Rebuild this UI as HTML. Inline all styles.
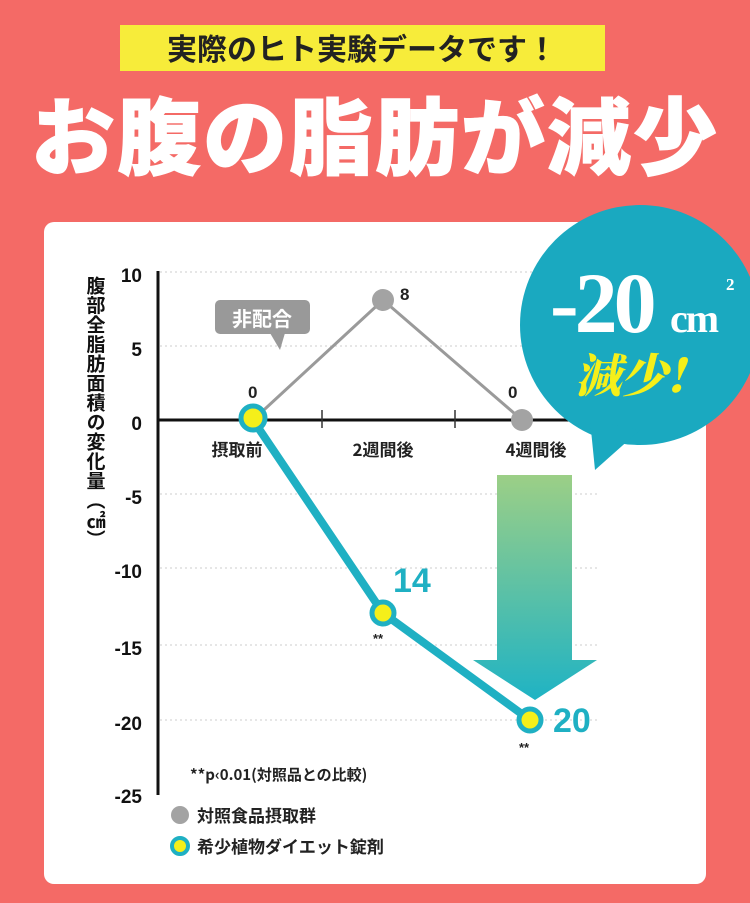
<!DOCTYPE html>
<html><head><meta charset="utf-8"><style>
body{margin:0;width:750px;height:903px;overflow:hidden;background:#f46a66;font-family:"Liberation Sans","Noto Sans CJK JP",sans-serif;}
</style></head><body>
<svg width="750" height="903" viewBox="0 0 750 903" xmlns="http://www.w3.org/2000/svg" style="position:absolute;left:0;top:0">
<defs>
<linearGradient id="ag" x1="0" y1="0" x2="0" y2="1"><stop offset="0" stop-color="#9ccf86"/><stop offset="1" stop-color="#1fb3c4"/></linearGradient>
</defs>
<rect width="750" height="903" fill="#f46a66"/>
<rect x="120" y="25" width="485" height="46" fill="#f7ec3a"/>
<text x="362" y="60" font-size="30" font-weight="bold" text-anchor="middle" fill="#222" font-family="Noto Sans CJK JP,sans-serif">実際のヒト実験データです！</text>
<text x="375" y="168" font-size="84" font-weight="900" text-anchor="middle" fill="#fff" stroke="#fff" stroke-width="1" font-family="Noto Sans CJK JP,sans-serif" letter-spacing="2">お腹の脂肪が減少</text>
<rect x="44" y="222" width="662" height="662" rx="10" fill="#fff"/>
<g stroke="#ccc" stroke-dasharray="2,3" stroke-width="1">
<line x1="160" y1="272" x2="600" y2="272"/><line x1="160" y1="346" x2="600" y2="346"/>
<line x1="160" y1="494" x2="600" y2="494"/><line x1="160" y1="568" x2="600" y2="568"/>
<line x1="160" y1="645" x2="600" y2="645"/><line x1="160" y1="720" x2="600" y2="720"/>
</g>
<line x1="158" y1="271" x2="158" y2="795" stroke="#111" stroke-width="3"/>
<line x1="157" y1="420" x2="600" y2="420" stroke="#111" stroke-width="3"/>
<line x1="322" y1="410" x2="322" y2="428" stroke="#333" stroke-width="1.5"/>
<line x1="455" y1="410" x2="455" y2="428" stroke="#333" stroke-width="1.5"/>
<g font-size="19" font-weight="bold" fill="#111" text-anchor="end">
<text x="142" y="282">10</text><text x="142" y="356">5</text><text x="142" y="430">0</text>
<text x="142" y="504">-5</text><text x="142" y="578">-10</text><text x="142" y="655">-15</text>
<text x="142" y="730">-20</text><text x="142" y="803">-25</text>
</g>
<text font-size="19" font-weight="bold" fill="#111" font-family="Noto Sans CJK JP,sans-serif" writing-mode="tb" x="96" y="276" letter-spacing="0.5">腹部全脂肪面積の変化量（㎠）</text>
<g font-size="17" font-weight="bold" fill="#222" text-anchor="middle" font-family="Noto Sans CJK JP,sans-serif">
<text x="237" y="456">摂取前</text><text x="383" y="456">2週間後</text><text x="536" y="456">4週間後</text>
</g>
<polyline points="253,420 383,300 522,420" fill="none" stroke="#9a9a9a" stroke-width="3"/>
<circle cx="383" cy="300" r="11" fill="#a3a3a3"/>
<circle cx="522" cy="420" r="11" fill="#a3a3a3"/>
<g font-size="17" font-weight="bold" fill="#222"><text x="248" y="398">0</text><text x="400" y="300">8</text><text x="508" y="398">0</text></g>
<rect x="215" y="300" width="95" height="34" rx="5" fill="#999"/>
<polygon points="270,333 285,333 280,350" fill="#999"/>
<text x="262" y="326" font-size="20" font-weight="bold" fill="#fff" text-anchor="middle" font-family="Noto Sans CJK JP,sans-serif">非配合</text>
<polygon points="497,475 572,475 572,660 597,660 535,700 473,660 497,660" fill="url(#ag)"/>
<polyline points="253,420 383,613 530,720" fill="none" stroke="#1fb0c3" stroke-width="8" stroke-linejoin="round"/>
<circle cx="253" cy="418" r="12" fill="#f5ef1a" stroke="#1fb0c3" stroke-width="5"/>
<circle cx="383" cy="613" r="11" fill="#f5ef1a" stroke="#1fb0c3" stroke-width="5"/>
<circle cx="530" cy="720" r="11" fill="#f5ef1a" stroke="#1fb0c3" stroke-width="5"/>
<text x="393" y="592" font-size="34" font-weight="bold" fill="#1fb0c3">14</text>
<text x="553" y="732" font-size="34" font-weight="bold" fill="#1fb0c3">20</text>
<text x="373" y="643" font-size="13" font-weight="bold" fill="#222">**</text>
<text x="519" y="752" font-size="13" font-weight="bold" fill="#222">**</text>
<text x="190" y="780" font-size="15" font-weight="bold" fill="#222" font-family="Noto Sans CJK JP,sans-serif">**p‹0.01(対照品との比較)</text>
<circle cx="180" cy="815" r="9" fill="#a3a3a3"/>
<text x="197" y="822" font-size="17" font-weight="bold" fill="#222" font-family="Noto Sans CJK JP,sans-serif">対照食品摂取群</text>
<circle cx="180" cy="846" r="8" fill="#f5ef1a" stroke="#1fb0c3" stroke-width="4"/>
<text x="197" y="853" font-size="17" font-weight="bold" fill="#222" font-family="Noto Sans CJK JP,sans-serif">希少植物ダイエット錠剤</text>
<circle cx="640" cy="325" r="120" fill="#1aa9c0"/>
<polygon points="590,420 640,430 595,470" fill="#1aa9c0"/>
<text x="550" y="332" font-size="86" font-weight="bold" fill="#fff" font-family="Liberation Serif,serif" letter-spacing="-4">-20</text>
<text x="670" y="332" font-size="40" font-weight="bold" fill="#fff" font-family="Liberation Serif,serif" letter-spacing="-2">cm</text>
<text x="726" y="290" font-size="17" font-weight="bold" fill="#fff" font-family="Liberation Serif,serif">2</text>
<text x="575" y="392" font-size="46" font-weight="900" fill="#f5ef1a" font-family="Noto Serif CJK SC,serif" font-style="italic">減少!</text>
</svg>
</body></html>
